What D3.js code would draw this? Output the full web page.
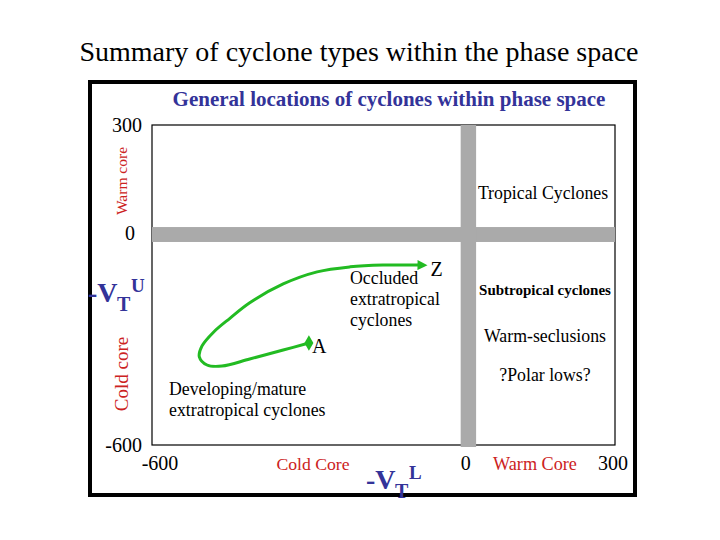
<!DOCTYPE html>
<html><head><meta charset="utf-8">
<script src="https://cdn.jsdelivr.net/npm/d3@7"></script>
<style>body{margin:0;background:#fff}svg{display:block}text{font-family:"Liberation Serif","Times New Roman",serif}</style>
</head><body><svg id="c" width="720" height="540"></svg>
<script>
const xTicks = [-600, 0, 300];
const yTicks = [300, 0, -600];
const bandX = [0, 30];
const bandY = [13, -29];
const trackX = [-295, -345, -410, -464, -493, -508, -503, -480, -448, -410, -345, -279, -215, -151, -80];
const trackY = [-313, -333, -358, -378, -375, -352, -322, -282, -243, -200, -147, -113, -99, -94, -94];
const startLabel = "A", endLabel = "Z";

const svg = d3.select("#c");
const x = d3.scaleLinear().domain([-600, 300]).range([152, 615]);
const y = d3.scaleLinear().domain([-600, 300]).range([445, 125]);

svg.append("text").attr("x", 359).attr("y", 61).attr("text-anchor", "middle")
  .attr("font-size", 28).attr("fill", "#000").text("Summary of cyclone types within the phase space");

svg.append("rect").attr("x", 90).attr("y", 82).attr("width", 545).attr("height", 413)
  .attr("fill", "#fff").attr("stroke", "#000").attr("stroke-width", 4);

svg.append("text").attr("x", 389).attr("y", 106).attr("text-anchor", "middle")
  .attr("font-size", 21).attr("font-weight", "bold").attr("fill", "#333399")
  .text("General locations of cyclones within phase space");

// plot frame
svg.append("rect").attr("x", x(-600)).attr("y", y(300)).attr("width", x(300) - x(-600)).attr("height", y(-600) - y(300))
  .attr("fill", "#fff").attr("stroke", "#000").attr("stroke-width", 1.2);

// grey bands
svg.append("rect").attr("x", x(-600)).attr("y", y(bandY[0])).attr("width", x(300) - x(-600)).attr("height", y(bandY[1]) - y(bandY[0]))
  .attr("fill", "#aaaaaa");
svg.append("rect").attr("x", x(bandX[0])).attr("y", y(300)).attr("width", x(bandX[1]) - x(bandX[0])).attr("height", y(-600) - y(300) + 2)
  .attr("fill", "#aaaaaa");

// tick labels
const yOff = {"300": 7, "0": 8, "-600": 7};
const yDx = {"300": 0, "0": -7, "-600": 0};
yTicks.forEach(t => {
  svg.append("text").attr("x", x(-600) - 10 + yDx[t]).attr("y", y(t) + yOff[t]).attr("text-anchor", "end")
    .attr("font-size", 20).text(t);
});
const xDx = {"-600": 8, "0": 5, "300": -2};
xTicks.forEach(t => {
  svg.append("text").attr("x", x(t) + xDx[t]).attr("y", 470).attr("text-anchor", "middle")
    .attr("font-size", 20).text(t);
});

// core labels
const red = "#cc2222";
svg.append("text").attr("transform", "translate(127,181) rotate(-90)").attr("text-anchor", "middle")
  .attr("font-size", 15.5).attr("fill", red).text("Warm core");
svg.append("text").attr("transform", "translate(128,374) rotate(-90)").attr("text-anchor", "middle")
  .attr("font-size", 19).attr("fill", red).text("Cold core");
svg.append("text").attr("x", 313).attr("y", 470).attr("text-anchor", "middle")
  .attr("font-size", 17.7).attr("fill", red).text("Cold Core");
svg.append("text").attr("x", 535).attr("y", 470).attr("text-anchor", "middle")
  .attr("font-size", 18.2).attr("fill", red).text("Warm Core");

// VT labels
function vt(x0, y0, sup) {
  const g = svg.append("g").attr("fill", "#333399").attr("font-weight", "bold");
  g.append("text").attr("x", x0).attr("y", y0).attr("font-size", 28).text("-V");
  g.append("text").attr("x", x0 + 29).attr("y", y0 + 9).attr("font-size", 20).text("T");
  g.append("text").attr("x", x0 + 43).attr("y", y0 - 10).attr("font-size", 19).text(sup);
}
vt(88, 302, "U");
vt(366, 489, "L");

// region labels
const lab = (tx, ty, s, anchor, fs, bold) => svg.append("text").attr("x", tx).attr("y", ty)
  .attr("text-anchor", anchor).attr("font-size", fs).attr("font-weight", bold ? "bold" : "normal").text(s);
lab(543, 199, "Tropical Cyclones", "middle", 17.8, false);
lab(545, 295, "Subtropical cyclones", "middle", 15, true);
lab(545, 342, "Warm-seclusions", "middle", 17.8, false);
lab(545, 381, "?Polar lows?", "middle", 17.8, false);
lab(350, 284, "Occluded", "start", 17.8, false);
lab(350, 305, "extratropical", "start", 17.8, false);
lab(350, 326, "cyclones", "start", 17.8, false);
lab(169, 395, "Developing/mature", "start", 17.8, false);
lab(169, 416, "extratropical cyclones", "start", 17.8, false);

// track
const green = "#22bb22";
const defs = svg.append("defs");
defs.append("marker").attr("id", "arr").attr("viewBox", "0 0 10 10").attr("refX", 2).attr("refY", 5)
  .attr("markerWidth", 13).attr("markerHeight", 10).attr("markerUnits", "userSpaceOnUse").attr("orient", "auto")
  .append("path").attr("d", "M0,0L10,5L0,10Z").attr("fill", green);
const pts = trackX.map((v, i) => [x(v), y(trackY[i])]);
svg.append("path").attr("d", d3.line().curve(d3.curveCatmullRom.alpha(0.5))(pts))
  .attr("fill", "none").attr("stroke", green).attr("stroke-width", 3).attr("marker-end", "url(#arr)");
svg.append("path").attr("d", d3.symbol().type(d3.symbolDiamond).size(70)())
  .attr("transform", `translate(${pts[0][0]},${pts[0][1]})`).attr("fill", green);
svg.append("text").attr("x", pts[0][0] + 3).attr("y", pts[0][1] + 10).attr("font-size", 20).text(startLabel);
svg.append("text").attr("x", x(trackX[trackX.length - 1]) + 11).attr("y", y(trackY[trackY.length - 1]) + 11)
  .attr("font-size", 20).text(endLabel);
</script></body></html>
